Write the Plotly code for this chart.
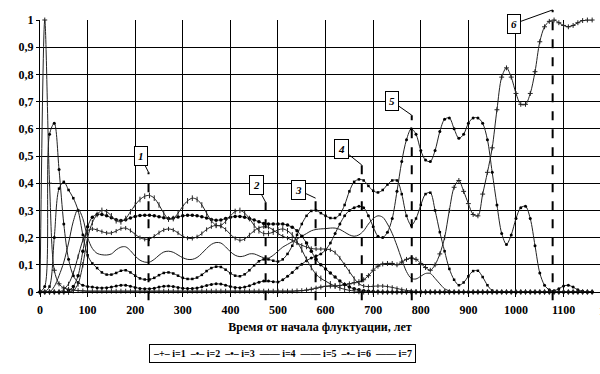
import plotly.graph_objects as go

years = list(range(0, 1161, 10))

i1 = [0, 1.0, 0.4, 0.08, 0.03, 0.015, 0.01, 0.007, 0.005, 0.004,
      0.003, 0.003, 0.003, 0.003, 0.003, 0.003, 0.003, 0.003, 0.003, 0.003,
      0.003, 0.003, 0.003, 0.003, 0.003, 0.003, 0.003, 0.003, 0.003, 0.003,
      0.003, 0.003, 0.003, 0.003, 0.003, 0.003, 0.003, 0.003, 0.003, 0.003,
      0.003, 0.003, 0.003, 0.003, 0.003, 0.003, 0.003, 0.003, 0.003, 0.003,
      0.003, 0.003, 0.003, 0.003, 0.004, 0.005, 0.007, 0.01, 0.014, 0.018,
      0.021, 0.022, 0.022, 0.024, 0.027, 0.03, 0.034, 0.038, 0.045, 0.06,
      0.08, 0.095, 0.103, 0.105, 0.105, 0.1, 0.11, 0.12, 0.125, 0.12,
      0.105, 0.09, 0.08, 0.1, 0.14, 0.2, 0.3, 0.385, 0.41, 0.37,
      0.325, 0.285, 0.28, 0.36, 0.44, 0.53, 0.67, 0.79, 0.824, 0.79,
      0.73, 0.69, 0.69, 0.73, 0.81, 0.92, 0.975, 0.995, 1.0, 0.99,
      0.98, 0.975, 0.98, 0.99, 0.998, 1.0, 1.0]

i2 = [0, 0.02, 0.58, 0.62, 0.45, 0.25, 0.12, 0.06, 0.035, 0.025,
      0.02, 0.018, 0.016, 0.015, 0.016, 0.018, 0.022, 0.025, 0.025, 0.021,
      0.017, 0.013, 0.012, 0.012, 0.014, 0.018, 0.021, 0.022, 0.02, 0.017,
      0.014, 0.013, 0.013, 0.015, 0.019, 0.024, 0.028, 0.03, 0.029, 0.025,
      0.02, 0.017, 0.016, 0.018, 0.023, 0.03, 0.036, 0.04, 0.04, 0.038,
      0.037, 0.045, 0.058, 0.072, 0.088, 0.102, 0.115, 0.125, 0.132, 0.14,
      0.155, 0.18, 0.215, 0.25, 0.28, 0.3, 0.31, 0.315, 0.31, 0.28,
      0.24, 0.205, 0.2, 0.22, 0.27, 0.37, 0.48, 0.56, 0.6, 0.58,
      0.52, 0.485, 0.48, 0.52, 0.59, 0.635, 0.64, 0.6, 0.565, 0.58,
      0.62, 0.64, 0.64, 0.62, 0.56, 0.44, 0.32, 0.215, 0.175, 0.21,
      0.27, 0.31, 0.315, 0.27, 0.17, 0.07, 0.025, 0.008, 0.005, 0.012,
      0.022, 0.025, 0.018, 0.008, 0.003, 0, 0]

i3 = [0, 0, 0.02, 0.2, 0.38, 0.405, 0.375, 0.345, 0.3, 0.21,
      0.135, 0.105, 0.088, 0.072, 0.064, 0.064, 0.07, 0.078, 0.08, 0.072,
      0.06, 0.05, 0.046, 0.046, 0.052, 0.062, 0.07, 0.072, 0.068, 0.06,
      0.052, 0.048, 0.048, 0.053, 0.063, 0.077, 0.088, 0.093, 0.092, 0.082,
      0.069, 0.06, 0.058, 0.065, 0.08, 0.098, 0.113, 0.12, 0.12, 0.115,
      0.112, 0.12, 0.14, 0.17, 0.21, 0.25, 0.28, 0.298, 0.3, 0.29,
      0.28, 0.272, 0.272, 0.285, 0.32, 0.37, 0.405, 0.414, 0.41, 0.39,
      0.372, 0.366, 0.375, 0.395, 0.41, 0.41, 0.36, 0.28, 0.245, 0.27,
      0.32, 0.36, 0.365, 0.3, 0.22, 0.15, 0.085, 0.045, 0.025, 0.035,
      0.058, 0.077, 0.078, 0.055, 0.025, 0.005, 0, 0, 0, 0,
      0, 0, 0, 0, 0, 0, 0, 0, 0, 0,
      0, 0, 0, 0, 0, 0, 0]

i4 = [0, 0, 0, 0.02, 0.06, 0.11, 0.18, 0.26, 0.305, 0.27,
      0.2, 0.16, 0.142, 0.137, 0.136, 0.14, 0.155, 0.165, 0.166, 0.152,
      0.132, 0.117, 0.11, 0.11, 0.12, 0.135, 0.147, 0.15, 0.146, 0.136,
      0.126, 0.12, 0.12, 0.127, 0.142, 0.16, 0.175, 0.182, 0.18, 0.166,
      0.148, 0.135, 0.13, 0.133, 0.14, 0.14, 0.133, 0.126, 0.125, 0.135,
      0.15, 0.165, 0.175, 0.185, 0.195, 0.205, 0.215, 0.225, 0.23, 0.232,
      0.233, 0.235, 0.235, 0.23, 0.22, 0.21, 0.205, 0.21, 0.225, 0.25,
      0.27, 0.28, 0.275, 0.25, 0.215, 0.17, 0.12, 0.075, 0.05, 0.048,
      0.058, 0.068, 0.068, 0.05, 0.03, 0.012, 0.004, 0, 0, 0,
      0, 0, 0, 0, 0, 0, 0, 0, 0, 0,
      0, 0, 0, 0, 0, 0, 0, 0, 0, 0,
      0, 0, 0, 0, 0, 0, 0]

i5 = [0, 0, 0, 0, 0, 0.01, 0.03, 0.07, 0.13, 0.19,
      0.225, 0.232, 0.228, 0.222, 0.217, 0.217, 0.224, 0.233, 0.235, 0.226,
      0.212, 0.2, 0.194, 0.195, 0.205, 0.218, 0.228, 0.232, 0.228, 0.217,
      0.205, 0.198, 0.197, 0.203, 0.215, 0.23, 0.24, 0.245, 0.242, 0.23,
      0.212, 0.197, 0.19, 0.195, 0.21, 0.225, 0.236, 0.24, 0.238, 0.228,
      0.215, 0.205, 0.198, 0.19, 0.18, 0.172, 0.165, 0.16, 0.158, 0.158,
      0.158, 0.155, 0.145, 0.125, 0.1, 0.075, 0.05, 0.03, 0.022, 0.02,
      0.021, 0.022, 0.022, 0.02, 0.017, 0.013, 0.009, 0.006, 0.004, 0.002,
      0, 0, 0, 0, 0, 0, 0, 0, 0, 0,
      0, 0, 0, 0, 0, 0, 0, 0, 0, 0,
      0, 0, 0, 0, 0, 0, 0, 0, 0, 0,
      0, 0, 0, 0, 0, 0, 0]

i6 = [0, 0, 0, 0, 0, 0, 0.005, 0.02, 0.06, 0.15,
      0.24, 0.275, 0.285, 0.285, 0.28, 0.273, 0.266, 0.263, 0.266, 0.272,
      0.278, 0.281, 0.282, 0.282, 0.28, 0.277, 0.273, 0.27, 0.272, 0.276,
      0.28, 0.282, 0.282, 0.28, 0.277, 0.272, 0.267, 0.264, 0.265, 0.27,
      0.275, 0.278, 0.278, 0.275, 0.27, 0.265, 0.258, 0.252, 0.25, 0.25,
      0.25, 0.25, 0.246, 0.238, 0.225, 0.205, 0.18, 0.15, 0.12, 0.1,
      0.085, 0.07, 0.055, 0.04, 0.028, 0.018, 0.012, 0.008, 0.005, 0.003,
      0.002, 0.001, 0, 0, 0, 0, 0, 0, 0, 0,
      0, 0, 0, 0, 0, 0, 0, 0, 0, 0,
      0, 0, 0, 0, 0, 0, 0, 0, 0, 0,
      0, 0, 0, 0, 0, 0, 0, 0, 0, 0,
      0, 0, 0, 0, 0, 0, 0]

i7 = [0, 0, 0, 0, 0, 0, 0, 0.005, 0.03, 0.1,
      0.2, 0.255, 0.285, 0.3, 0.295, 0.28, 0.262, 0.258, 0.27, 0.295,
      0.32, 0.34, 0.352, 0.355, 0.345, 0.32, 0.29, 0.268, 0.27, 0.29,
      0.315, 0.335, 0.345, 0.34, 0.32, 0.29, 0.262, 0.245, 0.245, 0.26,
      0.28, 0.296, 0.3, 0.29, 0.27, 0.245, 0.225, 0.215, 0.215, 0.22,
      0.228, 0.232, 0.225, 0.21, 0.185, 0.155, 0.12, 0.09, 0.065, 0.05,
      0.04, 0.03, 0.022, 0.015, 0.01, 0.006, 0.004, 0.002, 0.001, 0,
      0, 0, 0, 0, 0, 0, 0, 0, 0, 0,
      0, 0, 0, 0, 0, 0, 0, 0, 0, 0,
      0, 0, 0, 0, 0, 0, 0, 0, 0, 0,
      0, 0, 0, 0, 0, 0, 0, 0, 0, 0,
      0, 0, 0, 0, 0, 0, 0]

series_names = ["i=1", "i=2", "i=3", "i=4", "i=5", "i=6", "i=7"]
series_values = [i1, i2, i3, i4, i5, i6, i7]

# callouts: label, time, top of dashed line
callout_labels = ["1", "2", "3", "4", "5", "6"]
callout_times = [228, 474, 579, 676, 781, 1077]
callout_tops = [0.44, 0.33, 0.345, 0.467, 0.65, 1.037]

x_ticks = [0, 100, 200, 300, 400, 500, 600, 700, 800, 900, 1000, 1100]
y_ticks = [0, 0.1, 0.2, 0.3, 0.4, 0.5, 0.6, 0.7, 0.8, 0.9, 1.0]
y_tick_text = ["0", "0,1", "0,2", "0,3", "0,4", "0,5", "0,6", "0,7", "0,8", "0,9", "1"]
x_title = "Время от начала флуктуации, лет"

X_MAX = 1176.5
FONT = "Liberation Serif"

styles = [
    dict(mode="lines+markers", marker=dict(symbol="cross-thin-open", size=3.5, line=dict(width=1, color="black"))),
    dict(mode="lines+markers", marker=dict(symbol="circle", size=3, color="black")),
    dict(mode="lines+markers", marker=dict(symbol="square", size=2.5, color="black")),
    dict(mode="lines"),
    dict(mode="lines+markers", marker=dict(symbol="line-ns-open", size=3, line=dict(width=1, color="black"))),
    dict(mode="lines+markers", marker=dict(symbol="circle", size=3.5, color="black")),
    dict(mode="lines+markers", marker=dict(symbol="line-ns-open", size=4, line=dict(width=1, color="black"))),
]

fig = go.Figure()
for name, vals, st in zip(series_names, series_values, styles):
    assert len(vals) == len(years), name
    fig.add_trace(go.Scatter(
        x=years, y=vals, name=name,
        line=dict(color="#222", width=1, shape="spline", smoothing=0.9),
        cliponaxis=False, **st))

shapes = []
annotations = []
box_offsets = [(-8, -16), (-9, -17), (-17, -8), (-20, -16), (-20, -14), (-39, 14)]
for lab, t, top, (ax, ay) in zip(callout_labels, callout_times, callout_tops, box_offsets):
    shapes.append(dict(type="line", xref="x", yref="paper", x0=t, x1=t, y0=-0.03, y1=top,
                       line=dict(color="black", width=2, dash="dash")))
    annotations.append(dict(x=t, y=top, xref="x", yref="paper", text="<b><i>" + lab + "</i></b>",
                            showarrow=True, arrowhead=0, arrowwidth=1, arrowcolor="black",
                            ax=ax, ay=ay, bgcolor="white", bordercolor="black", borderwidth=1,
                            borderpad=3, font=dict(family=FONT, size=11, color="black")))

# last tick label, cut by the right edge exactly as in the original
annotations.append(dict(x=1200 / X_MAX, y=0, xref="paper", yref="paper", text="<b>1200</b>",
                        showarrow=False, xanchor="center", yanchor="top", yshift=-10,
                        font=dict(family=FONT, size=12, color="black")))

legend_marks = ["–+–", "–•–", "–•–", "——", "——", "–•–", "——"]
legend_text = "  ".join(m + " " + n for m, n in zip(legend_marks, series_names))
annotations.append(dict(x=(282 - 40) / 560, y=(292 - 353) / 272, xref="paper", yref="paper",
                        text="<b>" + legend_text + "</b>", showarrow=False,
                        xanchor="center", yanchor="middle",
                        bordercolor="black", borderwidth=1, borderpad=3, bgcolor="white",
                        font=dict(family=FONT, size=10, color="black")))

fig.update_layout(
    width=600, height=374,
    margin=dict(l=40, r=0, t=20, b=82, autoexpand=False),
    plot_bgcolor="white", paper_bgcolor="white",
    showlegend=False,
    font=dict(family=FONT, size=12, color="black"),
    shapes=shapes, annotations=annotations,
    xaxis=dict(range=[0, X_MAX], tickvals=x_ticks, ticktext=[str(v) for v in x_ticks],
               automargin=False,
               showgrid=True, gridcolor="black", gridwidth=1, zeroline=False,
               showline=True, linecolor="black", linewidth=1,
               ticks="outside", ticklen=4, tickcolor="black", ticklabelstandoff=3,
               tickfont=dict(family=FONT, size=12, color="black", weight="bold"),
               title=dict(text=x_title, standoff=6,
                          font=dict(family=FONT, size=12, color="black", weight="bold"))),
    yaxis=dict(range=[0, 1], tickvals=y_ticks, ticktext=y_tick_text,
               automargin=False,
               showgrid=True, gridcolor="black", gridwidth=1, zeroline=False,
               showline=True, linecolor="black", linewidth=1,
               ticks="outside", ticklen=3, tickcolor="black",
               tickfont=dict(family=FONT, size=12, color="black", weight="bold")),
)

fig.write_html("out.html", config={"displayModeBar": False},
               post_script="document.body.style.margin='0px';")
